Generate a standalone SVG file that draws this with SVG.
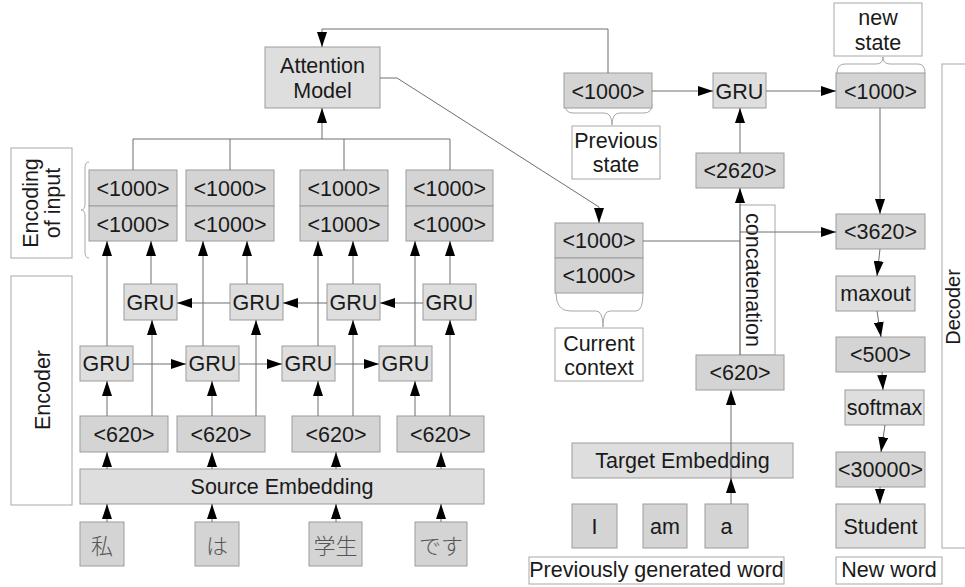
<svg xmlns="http://www.w3.org/2000/svg" width="965" height="587" viewBox="0 0 965 587">
<style>
.d{fill:#d4d4d4;stroke:#9c9c9c;stroke-width:1}
.l{fill:#dedede;stroke:#9c9c9c;stroke-width:1}
.w{fill:#ffffff;stroke:#a8a8a8;stroke-width:1}
text{font-family:"Liberation Sans",Arial,sans-serif;font-size:21.5px;fill:#1a1a1a;text-anchor:middle}
.j{font-family:"Noto Sans CJK JP",sans-serif;font-size:22px;fill:#555;font-weight:300;dominant-baseline:central}
.c line,.c polyline{stroke:#6e6e6e;stroke-width:1;fill:none}
.a{marker-end:url(#ah)}
.br{fill:none;stroke:#a8a8a8;stroke-width:1}
</style>
<defs>
<marker id="ah" markerUnits="userSpaceOnUse" markerWidth="15" markerHeight="10" refX="15" refY="5" orient="auto">
<path d="M0,0 L15,5 L0,10 z" fill="#000"/>
</marker>
</defs>
<rect width="965" height="587" fill="#fff"/>

<!-- label boxes -->
<g id="lbl-encoding"><rect class="w" x="11" y="148" width="61" height="110"/>
<text transform="translate(38,203) rotate(-90)">Encoding</text>
<text transform="translate(60,203) rotate(-90)">of input</text>
<path class="br" d="M89,162 Q85,162 85,168 L85,204 Q85,210 81,210 Q85,210 85,216 L85,252 Q85,258 89,258"/></g>
<g id="lbl-encoder"><rect class="w" x="11" y="276" width="61" height="229"/>
<text transform="translate(50,390) rotate(-90)">Encoder</text></g>
<g id="lbl-decoder"><rect class="w" x="942" y="64" width="40" height="484"/>
<text transform="translate(960,307) rotate(-90)" style="font-size:20px">Decoder</text></g>
<g id="lbl-prev"><rect class="w" x="572" y="126" width="88" height="53"/>
<text x="616" y="148">Previous</text><text x="616" y="172">state</text>
<path class="br" d="M565,104 Q565,113 573,113 L604,113 Q612,113 612,125 Q612,113 620,113 L644,113 Q652,113 652,104"/></g>
<g id="lbl-new"><rect class="w" x="834" y="3" width="88" height="53"/>
<text x="878" y="25">new</text><text x="878" y="50">state</text>
<path class="br" d="M837,73 Q837,64 845,64 L876,64 Q883,64 883,57 Q883,64 890,64 L918,64 Q925,64 925,73"/></g>
<g id="lbl-ctx"><rect class="w" x="555" y="328" width="88" height="53"/>
<text x="599" y="351">Current</text><text x="599" y="375">context</text>
<path class="br" d="M556,293 Q556,311 570,311 L596,311 Q603,311 603,327 Q603,311 610,311 L636,311 Q643,311 643,293"/></g>
<g id="lbl-prevword"><rect class="w" x="529" y="557" width="255" height="27"/>
<text x="656.5" y="577">Previously generated word</text></g>
<g id="lbl-newword"><rect class="w" x="836" y="557" width="106" height="27"/>
<text x="889" y="577">New word</text></g>
<g id="concat"><rect class="w" x="740" y="205" width="35" height="150"/>
<text transform="translate(746,280) rotate(90)">concatenation</text></g>

<!-- encoder nodes -->
<g id="attention"><rect class="l" x="265" y="47" width="115" height="61"/>
<text x="322.5" y="73">Attention</text><text x="322.5" y="98">Model</text></g>
<g id="enc1"><rect class="d" x="89" y="170" width="88" height="36"/><rect class="d" x="89" y="206" width="88" height="35"/>
<text x="133" y="196">&lt;1000&gt;</text><text x="133" y="231.5">&lt;1000&gt;</text></g>
<g id="enc2"><rect class="d" x="186" y="170" width="88" height="36"/><rect class="d" x="186" y="206" width="88" height="35"/>
<text x="230" y="196">&lt;1000&gt;</text><text x="230" y="231.5">&lt;1000&gt;</text></g>
<g id="enc3"><rect class="d" x="300" y="170" width="88" height="36"/><rect class="d" x="300" y="206" width="88" height="35"/>
<text x="344" y="196">&lt;1000&gt;</text><text x="344" y="231.5">&lt;1000&gt;</text></g>
<g id="enc4"><rect class="d" x="406" y="170" width="87" height="36"/><rect class="d" x="406" y="206" width="87" height="35"/>
<text x="449.5" y="196">&lt;1000&gt;</text><text x="449.5" y="231.5">&lt;1000&gt;</text></g>
<g id="bgru1"><rect class="l" x="124" y="284" width="53" height="36"/><text x="150.5" y="310">GRU</text></g>
<g id="bgru2"><rect class="l" x="230" y="284" width="53" height="36"/><text x="256.5" y="310">GRU</text></g>
<g id="bgru3"><rect class="l" x="327" y="284" width="53" height="36"/><text x="353.5" y="310">GRU</text></g>
<g id="bgru4"><rect class="l" x="423" y="284" width="53" height="36"/><text x="449.5" y="310">GRU</text></g>
<g id="fgru1"><rect class="l" x="80" y="346" width="53" height="35"/><text x="106.5" y="371">GRU</text></g>
<g id="fgru2"><rect class="l" x="186" y="346" width="53" height="35"/><text x="212.5" y="371">GRU</text></g>
<g id="fgru3"><rect class="l" x="282" y="346" width="53" height="35"/><text x="308.5" y="371">GRU</text></g>
<g id="fgru4"><rect class="l" x="379" y="346" width="53" height="35"/><text x="405.5" y="371">GRU</text></g>
<g id="src620a"><rect class="d" x="80" y="416" width="88" height="36"/><text x="124" y="442">&lt;620&gt;</text></g>
<g id="src620b"><rect class="d" x="177" y="416" width="88" height="36"/><text x="221" y="442">&lt;620&gt;</text></g>
<g id="src620c"><rect class="d" x="292" y="416" width="88" height="36"/><text x="336" y="442">&lt;620&gt;</text></g>
<g id="src620d"><rect class="d" x="397" y="416" width="87" height="36"/><text x="440.5" y="442">&lt;620&gt;</text></g>
<g id="srcemb"><rect class="l" x="80" y="469" width="404" height="35"/><text x="282" y="494">Source Embedding</text></g>
<g id="w1"><rect class="d" x="80" y="522" width="44" height="44"/><text class="j" x="102" y="544">私</text></g>
<g id="w2"><rect class="d" x="195" y="522" width="44" height="44"/><text class="j" x="217" y="544">は</text></g>
<g id="w3"><rect class="d" x="309" y="522" width="53" height="44"/><text class="j" x="335.5" y="544">学生</text></g>
<g id="w4"><rect class="d" x="415" y="522" width="52" height="44"/><text class="j" x="441" y="544">です</text></g>

<!-- decoder nodes -->
<g id="prevstate"><rect class="d" x="564" y="73" width="88" height="35"/><text x="608" y="98.5">&lt;1000&gt;</text></g>
<g id="dgru"><rect class="l" x="713" y="73" width="53" height="35"/><text x="739.5" y="98.5">GRU</text></g>
<g id="newstate"><rect class="d" x="836" y="73" width="89" height="35"/><text x="880.5" y="98.5">&lt;1000&gt;</text></g>
<g id="d2620"><rect class="d" x="696" y="153" width="88" height="35"/><text x="740" y="178">&lt;2620&gt;</text></g>
<g id="context"><rect class="d" x="555" y="223" width="88" height="35"/><rect class="d" x="555" y="258" width="88" height="35"/>
<text x="599" y="248">&lt;1000&gt;</text><text x="599" y="283">&lt;1000&gt;</text></g>
<g id="d620"><rect class="d" x="696" y="355" width="88" height="35"/><text x="740" y="380">&lt;620&gt;</text></g>
<g id="tgtemb"><rect class="l" x="572" y="443" width="221" height="35"/><text x="682.5" y="468">Target Embedding</text></g>
<g id="tI"><rect class="d" x="572" y="504" width="45" height="44"/><text x="594.5" y="534">I</text></g>
<g id="tam"><rect class="d" x="643" y="504" width="44" height="44"/><text x="665" y="534">am</text></g>
<g id="ta"><rect class="d" x="705" y="504" width="43" height="44"/><text x="726.5" y="534">a</text></g>
<g id="d3620"><rect class="d" x="836" y="214" width="89" height="35"/><text x="880.5" y="239">&lt;3620&gt;</text></g>
<g id="maxout"><rect class="l" x="836" y="276" width="79" height="35"/><text x="875.5" y="301">maxout</text></g>
<g id="d500"><rect class="d" x="836" y="337" width="89" height="35"/><text x="880.5" y="362">&lt;500&gt;</text></g>
<g id="softmax"><rect class="l" x="845" y="390" width="79" height="35"/><text x="884.5" y="415">softmax</text></g>
<g id="d30000"><rect class="d" x="836" y="452" width="89" height="35"/><text x="880.5" y="477">&lt;30000&gt;</text></g>
<g id="student"><rect class="l" x="836" y="504" width="89" height="44"/><text x="880.5" y="534">Student</text></g>

<!-- connectors -->
<g id="connectors" class="c">
<line class="a" x1="107" y1="522" x2="107" y2="504"/>
<line class="a" x1="212" y1="522" x2="212" y2="504"/>
<line class="a" x1="336" y1="522" x2="336" y2="504"/>
<line class="a" x1="441" y1="522" x2="441" y2="504"/>
<line class="a" x1="107" y1="469" x2="107" y2="452"/>
<line class="a" x1="212" y1="469" x2="212" y2="452"/>
<line class="a" x1="336" y1="469" x2="336" y2="452"/>
<line class="a" x1="441" y1="469" x2="441" y2="452"/>
<line class="a" x1="107" y1="416" x2="107" y2="381"/>
<line class="a" x1="212" y1="416" x2="212" y2="381"/>
<line class="a" x1="318" y1="416" x2="318" y2="381"/>
<line class="a" x1="415" y1="416" x2="415" y2="381"/>
<line class="a" x1="152" y1="416" x2="152" y2="320"/>
<line class="a" x1="256" y1="416" x2="256" y2="320"/>
<line class="a" x1="353" y1="416" x2="353" y2="320"/>
<line class="a" x1="450" y1="416" x2="450" y2="320"/>
<line class="a" x1="107" y1="346" x2="107" y2="241"/>
<line class="a" x1="203" y1="346" x2="203" y2="241"/>
<line class="a" x1="318" y1="346" x2="318" y2="241"/>
<line class="a" x1="415" y1="346" x2="415" y2="241"/>
<line class="a" x1="151" y1="284" x2="151" y2="241"/>
<line class="a" x1="247" y1="284" x2="247" y2="241"/>
<line class="a" x1="353" y1="284" x2="353" y2="241"/>
<line class="a" x1="450" y1="284" x2="450" y2="241"/>
<line class="a" x1="133" y1="364" x2="186" y2="364"/>
<line class="a" x1="239" y1="364" x2="282" y2="364"/>
<line class="a" x1="335" y1="364" x2="379" y2="364"/>
<line class="a" x1="230" y1="303" x2="177" y2="303"/>
<line class="a" x1="327" y1="303" x2="283" y2="303"/>
<line class="a" x1="423" y1="303" x2="380" y2="303"/>
<polyline points="133,170 133,139 450,139 450,170"/>
<line x1="230" y1="139" x2="230" y2="170"/>
<line x1="344" y1="139" x2="344" y2="170"/>
<line class="a" x1="322" y1="139" x2="322" y2="108"/>
<polyline class="a" points="380,78 397,78 599,207 599,223"/>
<polyline class="a" points="608,73 608,29 322,29 322,47"/>
<line class="a" x1="652" y1="91" x2="713" y2="91"/>
<line class="a" x1="766" y1="91" x2="836" y2="91"/>
<line class="a" x1="740" y1="153" x2="740" y2="108"/>
<line class="a" x1="740" y1="355" x2="740" y2="188"/>
<line x1="643" y1="241" x2="740" y2="241"/>
<line class="a" x1="740" y1="232" x2="836" y2="232"/>
<line class="a" x1="731" y1="504" x2="731" y2="478"/>
<line class="a" x1="731" y1="478" x2="731" y2="390"/>
<line class="a" x1="880" y1="108" x2="880" y2="214"/>
<line class="a" x1="880" y1="249" x2="877" y2="276"/>
<line class="a" x1="877" y1="311" x2="881" y2="337"/>
<line class="a" x1="882" y1="372" x2="883" y2="390"/>
<line class="a" x1="885" y1="425" x2="881" y2="452"/>
<line class="a" x1="880" y1="487" x2="880" y2="504"/>
</g>
</svg>
